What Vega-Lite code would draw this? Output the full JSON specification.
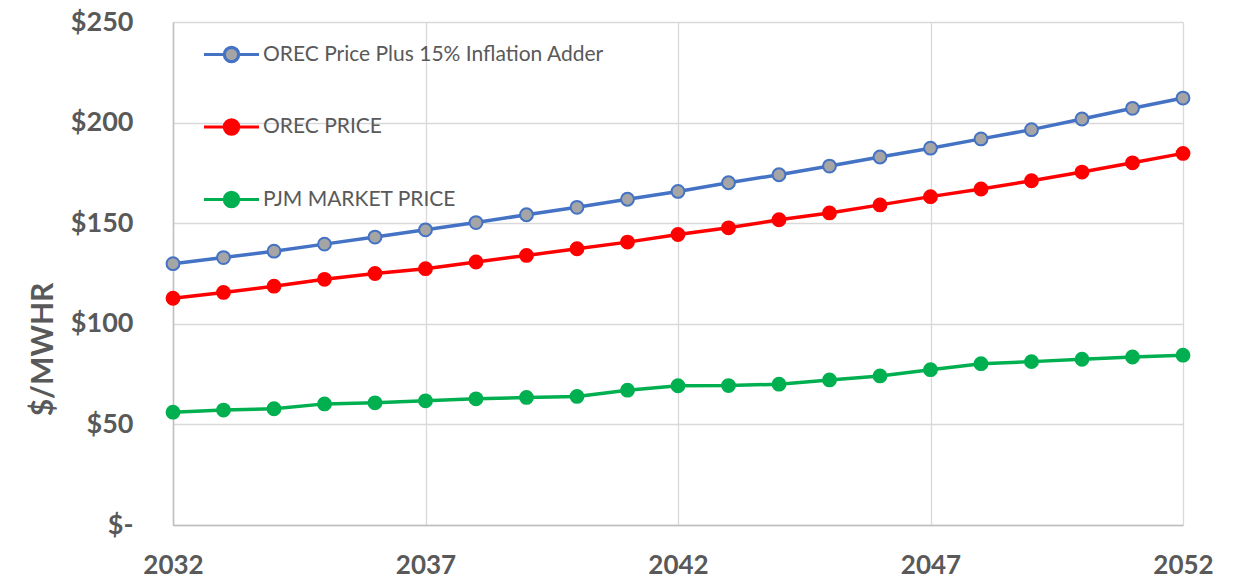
{
  "$schema": "https://vega.github.io/schema/vega-lite/v6.json",
  "width": 1010,
  "height": 503,
  "autosize": {"type": "none"},
  "padding": {"left": 173, "top": 22, "right": 51, "bottom": 61},
  "background": "white",
  "config": {
    "view": {"stroke": null},
    "font": "Lato",
    "legend": {
      "orient": "none",
      "legendX": 29,
      "legendY": 3,
      "padding": 0,
      "symbolType": "M-1,0L-0.26,0M0.26,0L1,0M-0.26,0A0.26,0.26 0 1,0 0.26,0A0.26,0.26 0 1,0 -0.26,0Z",
      "symbolSize": 3025,
      "symbolStrokeWidth": 3.2,
      "labelFont": "Lato",
      "labelFontSize": 21,
      "labelColor": "#595959",
      "labelOffset": 2,
      "rowPadding": 28.5,
      "labelLimit": 600
    }
  },
  "data": {
    "values": [
      {"year": 2032, "series": "OREC Price Plus 15% Inflation Adder", "price": 129.9},
      {"year": 2033, "series": "OREC Price Plus 15% Inflation Adder", "price": 132.9},
      {"year": 2034, "series": "OREC Price Plus 15% Inflation Adder", "price": 136.1},
      {"year": 2035, "series": "OREC Price Plus 15% Inflation Adder", "price": 139.6},
      {"year": 2036, "series": "OREC Price Plus 15% Inflation Adder", "price": 143.1},
      {"year": 2037, "series": "OREC Price Plus 15% Inflation Adder", "price": 146.7},
      {"year": 2038, "series": "OREC Price Plus 15% Inflation Adder", "price": 150.3},
      {"year": 2039, "series": "OREC Price Plus 15% Inflation Adder", "price": 154.2},
      {"year": 2040, "series": "OREC Price Plus 15% Inflation Adder", "price": 157.9},
      {"year": 2041, "series": "OREC Price Plus 15% Inflation Adder", "price": 161.9},
      {"year": 2042, "series": "OREC Price Plus 15% Inflation Adder", "price": 165.8},
      {"year": 2043, "series": "OREC Price Plus 15% Inflation Adder", "price": 170.1},
      {"year": 2044, "series": "OREC Price Plus 15% Inflation Adder", "price": 174.1},
      {"year": 2045, "series": "OREC Price Plus 15% Inflation Adder", "price": 178.4},
      {"year": 2046, "series": "OREC Price Plus 15% Inflation Adder", "price": 182.9},
      {"year": 2047, "series": "OREC Price Plus 15% Inflation Adder", "price": 187.3},
      {"year": 2048, "series": "OREC Price Plus 15% Inflation Adder", "price": 191.9},
      {"year": 2049, "series": "OREC Price Plus 15% Inflation Adder", "price": 196.5},
      {"year": 2050, "series": "OREC Price Plus 15% Inflation Adder", "price": 201.8},
      {"year": 2051, "series": "OREC Price Plus 15% Inflation Adder", "price": 207.1},
      {"year": 2052, "series": "OREC Price Plus 15% Inflation Adder", "price": 212.2},
      {"year": 2032, "series": "OREC PRICE", "price": 112.7},
      {"year": 2033, "series": "OREC PRICE", "price": 115.6},
      {"year": 2034, "series": "OREC PRICE", "price": 118.7},
      {"year": 2035, "series": "OREC PRICE", "price": 122.1},
      {"year": 2036, "series": "OREC PRICE", "price": 125.0},
      {"year": 2037, "series": "OREC PRICE", "price": 127.4},
      {"year": 2038, "series": "OREC PRICE", "price": 130.7},
      {"year": 2039, "series": "OREC PRICE", "price": 134.0},
      {"year": 2040, "series": "OREC PRICE", "price": 137.3},
      {"year": 2041, "series": "OREC PRICE", "price": 140.6},
      {"year": 2042, "series": "OREC PRICE", "price": 144.4},
      {"year": 2043, "series": "OREC PRICE", "price": 147.7},
      {"year": 2044, "series": "OREC PRICE", "price": 151.7},
      {"year": 2045, "series": "OREC PRICE", "price": 155.1},
      {"year": 2046, "series": "OREC PRICE", "price": 159.1},
      {"year": 2047, "series": "OREC PRICE", "price": 163.2},
      {"year": 2048, "series": "OREC PRICE", "price": 167.0},
      {"year": 2049, "series": "OREC PRICE", "price": 171.1},
      {"year": 2050, "series": "OREC PRICE", "price": 175.4},
      {"year": 2051, "series": "OREC PRICE", "price": 180.0},
      {"year": 2052, "series": "OREC PRICE", "price": 184.7},
      {"year": 2032, "series": "PJM MARKET PRICE", "price": 56.1},
      {"year": 2033, "series": "PJM MARKET PRICE", "price": 57.1},
      {"year": 2034, "series": "PJM MARKET PRICE", "price": 57.8},
      {"year": 2035, "series": "PJM MARKET PRICE", "price": 60.2},
      {"year": 2036, "series": "PJM MARKET PRICE", "price": 60.7},
      {"year": 2037, "series": "PJM MARKET PRICE", "price": 61.7},
      {"year": 2038, "series": "PJM MARKET PRICE", "price": 62.7},
      {"year": 2039, "series": "PJM MARKET PRICE", "price": 63.4},
      {"year": 2040, "series": "PJM MARKET PRICE", "price": 63.9},
      {"year": 2041, "series": "PJM MARKET PRICE", "price": 67.0},
      {"year": 2042, "series": "PJM MARKET PRICE", "price": 69.2},
      {"year": 2043, "series": "PJM MARKET PRICE", "price": 69.3},
      {"year": 2044, "series": "PJM MARKET PRICE", "price": 70.0},
      {"year": 2045, "series": "PJM MARKET PRICE", "price": 72.1},
      {"year": 2046, "series": "PJM MARKET PRICE", "price": 74.1},
      {"year": 2047, "series": "PJM MARKET PRICE", "price": 77.2},
      {"year": 2048, "series": "PJM MARKET PRICE", "price": 80.2},
      {"year": 2049, "series": "PJM MARKET PRICE", "price": 81.2},
      {"year": 2050, "series": "PJM MARKET PRICE", "price": 82.4},
      {"year": 2051, "series": "PJM MARKET PRICE", "price": 83.5},
      {"year": 2052, "series": "PJM MARKET PRICE", "price": 84.4}
    ]
  },
  "encoding": {
    "x": {
      "field": "year",
      "type": "quantitative",
      "scale": {"domain": [2032, 2052], "nice": false, "zero": false},
      "axis": {
        "values": [2032, 2037, 2042, 2047, 2052],
        "format": "d",
        "title": null,
        "labelFlush": false,
        "labelFont": "Lato",
        "labelFontSize": 26,
        "labelFontWeight": "bold",
        "labelColor": "#595959",
        "labelBaseline": "middle",
        "labelPadding": 40,
        "ticks": false,
        "domainColor": "#bfbfbf",
        "domainWidth": 1.5,
        "gridColor": "#d9d9d9",
        "gridWidth": 1.3
      }
    },
    "y": {
      "field": "price",
      "type": "quantitative",
      "scale": {"domain": [0, 250], "nice": false},
      "axis": {
        "values": [0, 50, 100, 150, 200, 250],
        "labelExpr": "datum.value == 0 ? '$-' : '$' + datum.value",
        "labelFont": "Lato",
        "labelFontSize": 27,
        "labelFontWeight": "bold",
        "labelColor": "#595959",
        "labelPadding": 40,
        "ticks": false,
        "domainColor": "#bfbfbf",
        "domainWidth": 1.5,
        "gridColor": "#d9d9d9",
        "gridWidth": 1.3,
        "title": "$/MWHR",
        "titleFont": "Lato",
        "titleFontSize": 30,
        "titleFontWeight": "bold",
        "titleColor": "#595959",
        "titleAngle": 270,
        "titleAlign": "center",
        "titleBaseline": "middle",
        "titleX": -130,
        "titleY": 327
      }
    }
  },
  "layer": [
    {
      "mark": {"type": "line", "strokeWidth": 3.5},
      "encoding": {
        "stroke": {
          "field": "series",
          "type": "nominal",
          "scale": {
            "domain": ["OREC Price Plus 15% Inflation Adder", "OREC PRICE", "PJM MARKET PRICE"],
            "range": ["#4472c4", "#ff0000", "#00b050"]
          },
          "legend": {"title": null}
        }
      }
    },
    {
      "mark": {"type": "circle", "size": 165, "strokeWidth": 2, "opacity": 1},
      "encoding": {
        "stroke": {
          "field": "series",
          "type": "nominal",
          "legend": {"title": null}
        },
        "fill": {
          "field": "series",
          "type": "nominal",
          "scale": {
            "domain": ["OREC Price Plus 15% Inflation Adder", "OREC PRICE", "PJM MARKET PRICE"],
            "range": ["#a5a5a5", "#ff0000", "#00b050"]
          },
          "legend": {"title": null}
        }
      }
    }
  ]
}
